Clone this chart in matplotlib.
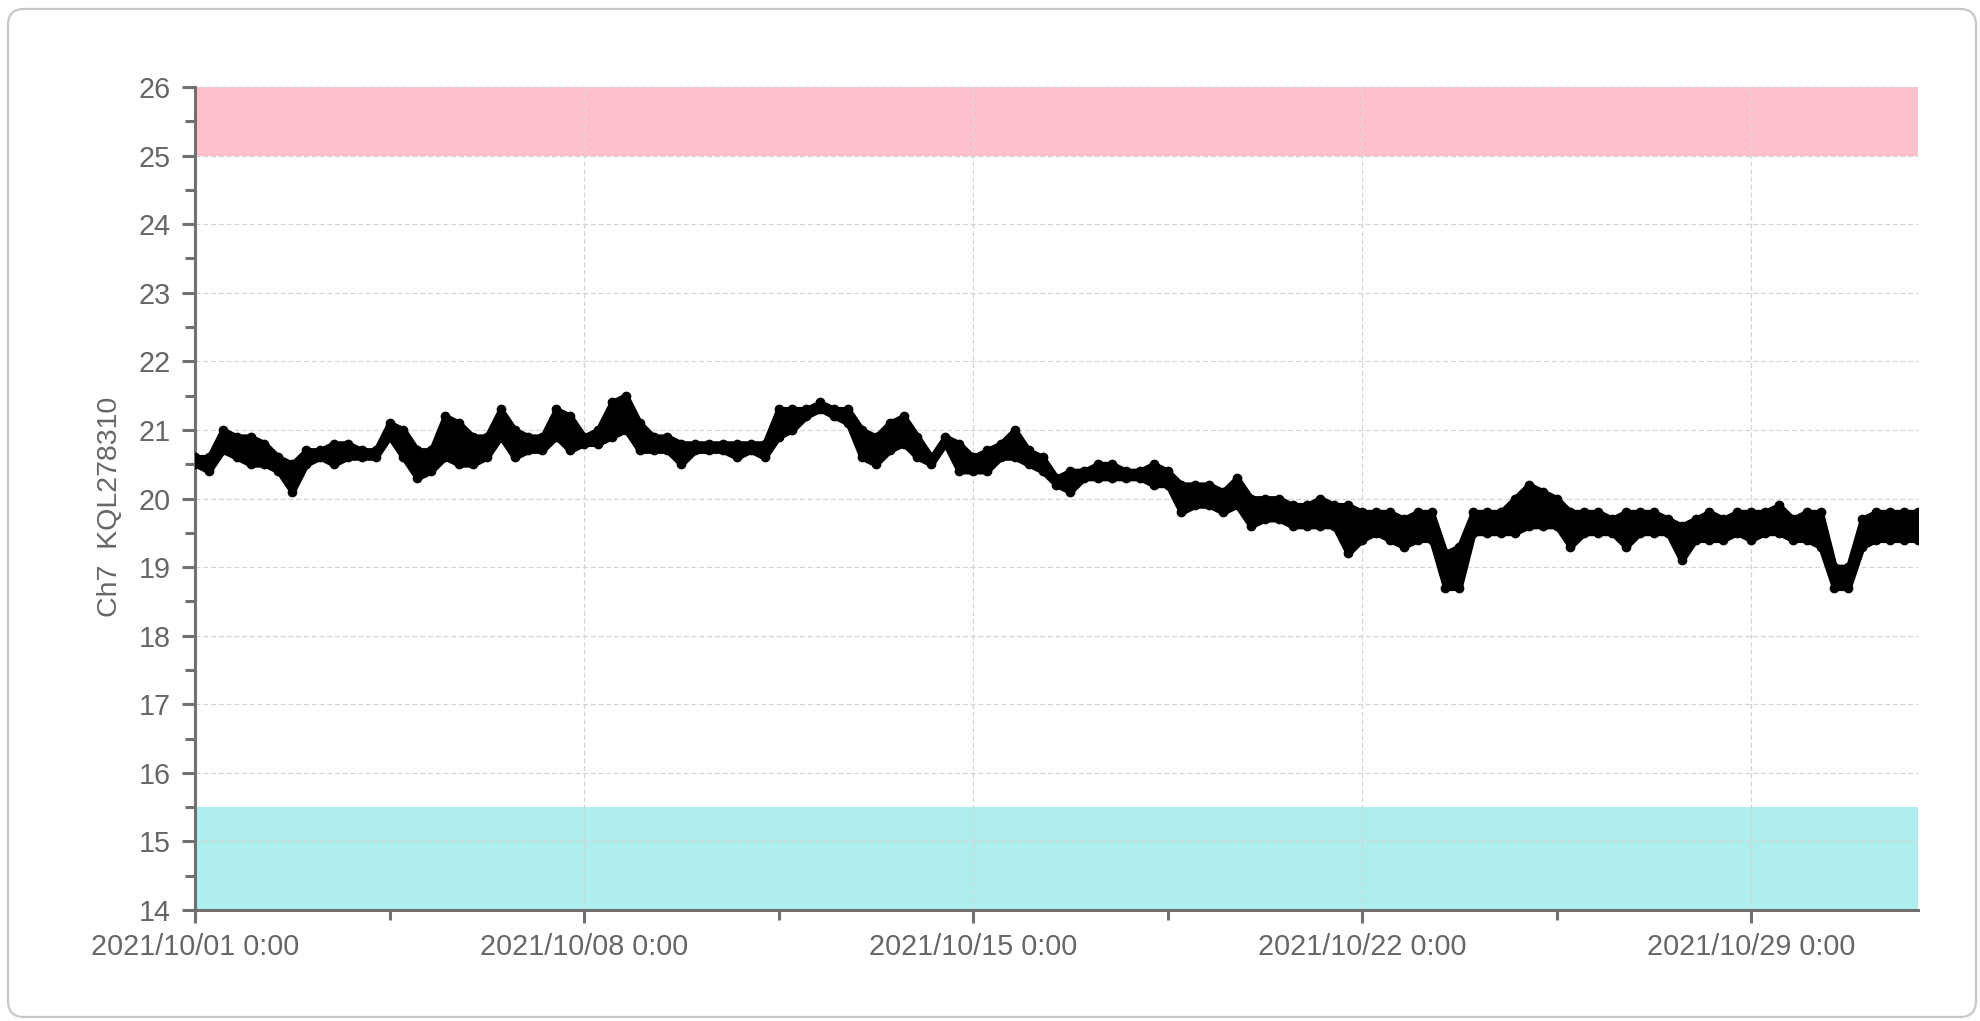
import numpy as np
import matplotlib
matplotlib.use("Agg")
import matplotlib.pyplot as plt
import matplotlib.dates as mdates
from matplotlib.patches import FancyBboxPatch
from matplotlib.transforms import IdentityTransform
from matplotlib.ticker import FixedLocator, MultipleLocator, FuncFormatter
import datetime as dt

plt.rcParams['font.family'] = ['Liberation Sans', 'DejaVu Sans']

# readings every 6 hours from 2021/10/01 0:00, low / high of the noisy band
start = dt.datetime(2021, 10, 1)
lo = [20.5, 20.4, 20.7, 20.6, 20.5, 20.5, 20.4, 20.1,   # day 0 - 1.75
      20.5, 20.6, 20.5, 20.6, 20.6, 20.6, 20.9, 20.6,   # day 2 - 3.75
      20.3, 20.4, 20.6, 20.5, 20.5, 20.6, 20.9, 20.6,   # day 4 - 5.75
      20.7, 20.7, 20.9, 20.7, 20.8, 20.8, 20.9, 21.0,   # day 6 - 7.75
      20.7, 20.7, 20.7, 20.5, 20.7, 20.7, 20.7, 20.6,   # day 8 - 9.75
      20.7, 20.6, 20.9, 21.0, 21.2, 21.3, 21.2, 21.1,   # day 10 - 11.75
      20.6, 20.5, 20.7, 20.8, 20.6, 20.5, 20.8, 20.4,   # day 12 - 13.75
      20.4, 20.4, 20.6, 20.6, 20.5, 20.4, 20.2, 20.1,   # day 14 - 15.75
      20.3, 20.3, 20.3, 20.3, 20.3, 20.2, 20.2, 19.8,   # day 16 - 17.75
      19.9, 19.9, 19.8, 19.9, 19.6, 19.7, 19.7, 19.6,   # day 18 - 19.75
      19.6, 19.6, 19.6, 19.2, 19.4, 19.5, 19.4, 19.3,   # day 20 - 21.75
      19.4, 19.4, 18.7, 18.7, 19.5, 19.5, 19.5, 19.5,   # day 22 - 23.75
      19.6, 19.6, 19.6, 19.3, 19.5, 19.5, 19.5, 19.3,   # day 24 - 25.75
      19.5, 19.5, 19.5, 19.1, 19.4, 19.4, 19.4, 19.5,   # day 26 - 27.75
      19.4, 19.5, 19.5, 19.4, 19.4, 19.3, 18.7, 18.7,   # day 28 - 29.75
      19.3, 19.4, 19.4, 19.4, 19.4]                     # day 30 - 31
hi = [20.6, 20.6, 21.0, 20.9, 20.9, 20.8, 20.6, 20.5,
      20.7, 20.7, 20.8, 20.8, 20.7, 20.7, 21.1, 21.0,
      20.7, 20.7, 21.2, 21.1, 20.9, 20.9, 21.3, 21.0,
      20.9, 20.9, 21.3, 21.2, 20.9, 21.0, 21.4, 21.5,
      21.1, 20.9, 20.9, 20.8, 20.8, 20.8, 20.8, 20.8,
      20.8, 20.8, 21.3, 21.3, 21.3, 21.4, 21.3, 21.3,
      21.0, 20.9, 21.1, 21.2, 20.9, 20.6, 20.9, 20.8,
      20.6, 20.7, 20.8, 21.0, 20.7, 20.6, 20.3, 20.4,
      20.4, 20.5, 20.5, 20.4, 20.4, 20.5, 20.4, 20.2,
      20.2, 20.2, 20.1, 20.3, 20.0, 20.0, 20.0, 19.9,
      19.9, 20.0, 19.9, 19.9, 19.8, 19.8, 19.8, 19.7,
      19.8, 19.8, 19.2, 19.3, 19.8, 19.8, 19.8, 20.0,
      20.2, 20.1, 20.0, 19.8, 19.8, 19.8, 19.7, 19.8,
      19.8, 19.8, 19.7, 19.6, 19.7, 19.8, 19.7, 19.8,
      19.8, 19.8, 19.9, 19.7, 19.8, 19.8, 19.0, 19.0,
      19.7, 19.8, 19.8, 19.8, 19.8]

high_band = (25, 26)
low_band = (14, 15.5)
y_label = "Ch7  KQL278310"

times = [start + dt.timedelta(hours=6 * i) for i in range(len(lo))]
x = mdates.date2num(times)
x0 = mdates.date2num(start)

fig = plt.figure(figsize=(19.8, 10.21), dpi=100)
ax = fig.add_axes([0.0985, 0.1087, 0.8701, 0.8061])

# rounded frame around the whole chart
frame = FancyBboxPatch((8, 4), 1968, 1008, boxstyle="round,pad=0,rounding_size=16",
                       transform=IdentityTransform(), facecolor='none',
                       edgecolor='#c8c8c8', linewidth=1.6)
fig.patches.append(frame)

ax.axhspan(*high_band, color='#ffc0cb', lw=0, zorder=0.5)
ax.axhspan(*low_band, color='#afeeee', lw=0, zorder=0.5)

# the measurement trace
ax.fill_between(x, lo, hi, color='black', edgecolor='black', linewidth=4.2,
                joinstyle='round', capstyle='round', zorder=3)
ax.plot(x, lo, 'o', color='black', markersize=6, zorder=3)
ax.plot(x, hi, 'o', color='black', markersize=6, zorder=3)

ax.set_xlim(x0, x0 + 31)
ax.set_ylim(14, 26)

ax.xaxis.set_major_locator(FixedLocator(x0 + np.arange(0, 29, 7)))
ax.xaxis.set_minor_locator(FixedLocator(x0 + np.arange(3.5, 31, 7)))

def fmt_date(v, pos):
    d = mdates.num2date(v)
    return f"{d:%Y/%m/%d} {d.hour}:{d:%M}"

ax.xaxis.set_major_formatter(FuncFormatter(fmt_date))
ax.yaxis.set_major_locator(MultipleLocator(1))
ax.yaxis.set_minor_locator(MultipleLocator(0.5))

gray = '#707070'
ax.grid(True, which='major', color='#d4d4d4', linestyle=(0, (4, 2.2)), linewidth=0.9)

ax.spines['right'].set_visible(False)
ax.spines['top'].set_visible(False)
for s in ('left', 'bottom'):
    ax.spines[s].set_color(gray)
    ax.spines[s].set_linewidth(2.2)

ax.tick_params(which='major', length=9.5, width=2.2, color=gray, labelsize=20.7,
               labelcolor='#666666')
ax.tick_params(which='minor', length=7, width=2.2, color=gray)
ax.tick_params(axis='y', pad=8)
ax.tick_params(axis='x', pad=7)

ax.set_ylabel(y_label, fontsize=20.5, color='#666666')
ax.yaxis.set_label_coords(-0.042, 0.49)

fig.savefig('out.png', dpi=100)
